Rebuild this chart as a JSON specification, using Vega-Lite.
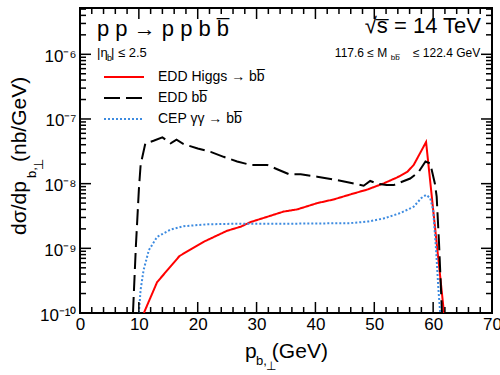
{
  "$schema": "https://vega.github.io/schema/vega-lite/v6.json",
  "width": 412,
  "height": 305,
  "autosize": {"type": "none"},
  "padding": {"left": 80, "top": 8, "right": 8, "bottom": 62},
  "background": "white",
  "config": {
    "view": {"stroke": "black", "strokeWidth": 2},
    "font": "Liberation Sans",
    "axis": {"ticks": false, "domain": false, "grid": false, "title": null},
    "text": {"font": "Liberation Sans", "color": "black"}
  },
  "datasets": {
    "xmaj": [{"v": 0}, {"v": 10}, {"v": 20}, {"v": 30}, {"v": 40}, {"v": 50}, {"v": 60}, {"v": 70}],
    "xmin": [{"v": 2}, {"v": 4}, {"v": 6}, {"v": 8}, {"v": 12}, {"v": 14}, {"v": 16}, {"v": 18}, {"v": 22}, {"v": 24}, {"v": 26}, {"v": 28}, {"v": 32}, {"v": 34}, {"v": 36}, {"v": 38}, {"v": 42}, {"v": 44}, {"v": 46}, {"v": 48}, {"v": 52}, {"v": 54}, {"v": 56}, {"v": 58}, {"v": 62}, {"v": 64}, {"v": 66}, {"v": 68}],
    "ymaj": [{"v": 1e-10}, {"v": 1e-9}, {"v": 1e-8}, {"v": 1e-7}, {"v": 1e-6}],
    "ymin": [{"v": 2e-10}, {"v": 3e-10}, {"v": 4e-10}, {"v": 5e-10}, {"v": 6e-10}, {"v": 7e-10}, {"v": 8e-10}, {"v": 9e-10}, {"v": 2e-9}, {"v": 3e-9}, {"v": 4e-9}, {"v": 5e-9}, {"v": 6e-9}, {"v": 7e-9}, {"v": 8e-9}, {"v": 9e-9}, {"v": 2e-8}, {"v": 3e-8}, {"v": 4e-8}, {"v": 5e-8}, {"v": 6e-8}, {"v": 7e-8}, {"v": 8e-8}, {"v": 9e-8}, {"v": 2e-7}, {"v": 3e-7}, {"v": 4e-7}, {"v": 5e-7}, {"v": 6e-7}, {"v": 7e-7}, {"v": 8e-7}, {"v": 9e-7}, {"v": 2e-6}, {"v": 3e-6}, {"v": 4e-6}, {"v": 5e-6}],
    "curves": [
      {"series": "higgs", "pt": 10.85, "ds": 1e-10},
      {"series": "higgs", "pt": 13.1, "ds": 3.0e-10},
      {"series": "higgs", "pt": 16.9, "ds": 7.6e-10},
      {"series": "higgs", "pt": 21.0, "ds": 1.26e-9},
      {"series": "higgs", "pt": 25.0, "ds": 1.87e-9},
      {"series": "higgs", "pt": 27.3, "ds": 2.16e-9},
      {"series": "higgs", "pt": 29.0, "ds": 2.55e-9},
      {"series": "higgs", "pt": 34.6, "ds": 3.7e-9},
      {"series": "higgs", "pt": 36.9, "ds": 4.0e-9},
      {"series": "higgs", "pt": 40.3, "ds": 5.0e-9},
      {"series": "higgs", "pt": 43.1, "ds": 5.7e-9},
      {"series": "higgs", "pt": 45.9, "ds": 6.8e-9},
      {"series": "higgs", "pt": 48.8, "ds": 8.1e-9},
      {"series": "higgs", "pt": 51.6, "ds": 1.01e-8},
      {"series": "higgs", "pt": 53.9, "ds": 1.25e-8},
      {"series": "higgs", "pt": 55.6, "ds": 1.52e-8},
      {"series": "higgs", "pt": 56.7, "ds": 1.95e-8},
      {"series": "higgs", "pt": 58.8, "ds": 4.4e-8},
      {"series": "higgs", "pt": 61.9, "ds": 9e-11},
      {"series": "bb", "pt": 9.0, "ds": 1e-10},
      {"series": "bb", "pt": 9.5, "ds": 1.1e-9},
      {"series": "bb", "pt": 10.0, "ds": 8e-9},
      {"series": "bb", "pt": 10.3, "ds": 1.95e-8},
      {"series": "bb", "pt": 11.1, "ds": 4.2e-8},
      {"series": "bb", "pt": 12.5, "ds": 4.6e-8},
      {"series": "bb", "pt": 14.0, "ds": 5.2e-8},
      {"series": "bb", "pt": 15.4, "ds": 4.2e-8},
      {"series": "bb", "pt": 16.4, "ds": 4.8e-8},
      {"series": "bb", "pt": 17.6, "ds": 4.1e-8},
      {"series": "bb", "pt": 20.0, "ds": 3.5e-8},
      {"series": "bb", "pt": 22.2, "ds": 3.1e-8},
      {"series": "bb", "pt": 24.4, "ds": 2.6e-8},
      {"series": "bb", "pt": 26.7, "ds": 2.2e-8},
      {"series": "bb", "pt": 29.0, "ds": 1.95e-8},
      {"series": "bb", "pt": 31.8, "ds": 1.95e-8},
      {"series": "bb", "pt": 33.5, "ds": 1.67e-8},
      {"series": "bb", "pt": 35.5, "ds": 1.4e-8},
      {"series": "bb", "pt": 37.5, "ds": 1.4e-8},
      {"series": "bb", "pt": 40.3, "ds": 1.28e-8},
      {"series": "bb", "pt": 43.1, "ds": 1.16e-8},
      {"series": "bb", "pt": 45.9, "ds": 1.03e-8},
      {"series": "bb", "pt": 48.2, "ds": 9.3e-9},
      {"series": "bb", "pt": 49.3, "ds": 1.1e-8},
      {"series": "bb", "pt": 50.5, "ds": 1.0e-8},
      {"series": "bb", "pt": 52.1, "ds": 9.5e-9},
      {"series": "bb", "pt": 53.3, "ds": 9.5e-9},
      {"series": "bb", "pt": 56.1, "ds": 1.2e-8},
      {"series": "bb", "pt": 57.5, "ds": 1.5e-8},
      {"series": "bb", "pt": 58.7, "ds": 2.2e-8},
      {"series": "bb", "pt": 59.5, "ds": 2.05e-8},
      {"series": "bb", "pt": 60.3, "ds": 1.0e-8},
      {"series": "bb", "pt": 60.6, "ds": 6.3e-9},
      {"series": "bb", "pt": 61.0, "ds": 1.2e-9},
      {"series": "bb", "pt": 61.5, "ds": 1e-10},
      {"series": "cep", "pt": 10.0, "ds": 1e-10},
      {"series": "cep", "pt": 10.3, "ds": 2.3e-10},
      {"series": "cep", "pt": 10.8, "ds": 4.6e-10},
      {"series": "cep", "pt": 11.7, "ds": 9.4e-10},
      {"series": "cep", "pt": 13.1, "ds": 1.5e-9},
      {"series": "cep", "pt": 15.4, "ds": 1.95e-9},
      {"series": "cep", "pt": 17.6, "ds": 2.2e-9},
      {"series": "cep", "pt": 21.6, "ds": 2.35e-9},
      {"series": "cep", "pt": 26.1, "ds": 2.4e-9},
      {"series": "cep", "pt": 35.0, "ds": 2.4e-9},
      {"series": "cep", "pt": 45.9, "ds": 2.45e-9},
      {"series": "cep", "pt": 49.0, "ds": 2.6e-9},
      {"series": "cep", "pt": 51.6, "ds": 2.9e-9},
      {"series": "cep", "pt": 54.4, "ds": 3.5e-9},
      {"series": "cep", "pt": 56.7, "ds": 4.4e-9},
      {"series": "cep", "pt": 58.0, "ds": 6.0e-9},
      {"series": "cep", "pt": 58.8, "ds": 6.7e-9},
      {"series": "cep", "pt": 59.5, "ds": 6.0e-9},
      {"series": "cep", "pt": 60.0, "ds": 3.9e-9},
      {"series": "cep", "pt": 60.5, "ds": 9.4e-10},
      {"series": "cep", "pt": 60.9, "ds": 2.3e-10},
      {"series": "cep", "pt": 61.2, "ds": 1e-10}
    ]
  },
  "layer": [
    {
      "data": {"name": "curves"},
      "mark": {"type": "line", "clip": true, "strokeWidth": 2},
      "encoding": {
        "x": {
          "field": "pt", "type": "quantitative",
          "scale": {"domain": [0, 70], "nice": false, "zero": false},
          "axis": {
            "orient": "bottom",
            "values": [0,10,20,30,40,50,60,70],
            "labelOverlap": false, "labelFlush": false,
            "labelFont": "Liberation Sans", "labelFontSize": 17, "labelColor": "black",
            "labelPadding": 3
          }
        },
        "y": {
          "field": "ds", "type": "quantitative",
          "scale": {"type": "log", "domain": [1e-10, 5.2e-6], "nice": false},
          "axis": {
            "orient": "left",
            "values": [1e-10, 1e-9, 1e-8, 1e-7, 1e-6],
            "labelExpr": "round(log(datum.value)/LN10) == -10 ? '10\u207b\u00b9\u2070' : round(log(datum.value)/LN10) == -9 ? '10\u207b\u2079' : round(log(datum.value)/LN10) == -8 ? '10\u207b\u2078' : round(log(datum.value)/LN10) == -7 ? '10\u207b\u2077' : '10\u207b\u2076'",
            "labelOverlap": false, "labelFlush": false,
            "labelFont": "Liberation Sans", "labelFontSize": 17, "labelColor": "black",
            "labelPadding": 4, "labelOffset": 2
          }
        },
        "color": {
          "field": "series", "type": "nominal",
          "scale": {"domain": ["higgs", "bb", "cep"], "range": ["#ff0000", "#000000", "#3d8be0"]},
          "legend": {
            "orient": "none", "legendX": 33, "legendY": 58, "title": null,
            "symbolType": "M-2,0H2", "symbolSize": 400, "symbolStrokeWidth": 2,
            "labelFont": "Liberation Sans", "labelFontSize": 14, "labelColor": "black",
            "labelOffset": 23, "labelLimit": 400, "padding": 0, "rowPadding": 3,
            "labelExpr": "datum.value == 'higgs' ? 'EDD Higgs \u2192 bb\u0305' : datum.value == 'bb' ? 'EDD bb\u0305' : 'CEP \u03b3\u03b3 \u2192 bb\u0305'"
          }
        },
        "strokeDash": {
          "field": "series", "type": "nominal",
          "scale": {"domain": ["higgs", "bb", "cep"], "range": [[1, 0], [16, 6], [2, 2]]},
          "legend": {
            "orient": "none", "legendX": 33, "legendY": 58, "title": null,
            "symbolType": "M-2,0H2", "symbolSize": 400, "symbolStrokeWidth": 2,
            "labelFont": "Liberation Sans", "labelFontSize": 14, "labelColor": "black",
            "labelOffset": 23, "labelLimit": 400, "padding": 0, "rowPadding": 3,
            "labelExpr": "datum.value == 'higgs' ? 'EDD Higgs \u2192 bb\u0305' : datum.value == 'bb' ? 'EDD bb\u0305' : 'CEP \u03b3\u03b3 \u2192 bb\u0305'"
          }
        }
      }
    },
    {
      "data": {"name": "xmaj"},
      "mark": {"type": "tick", "orient": "vertical", "size": 11, "thickness": 1.5, "color": "black", "opacity": 1, "yOffset": -5.5},
      "encoding": {
        "x": {"field": "v", "type": "quantitative", "scale": {"domain": [0, 70], "nice": false, "zero": false}},
        "y": {"datum": 1e-10, "type": "quantitative", "scale": {"type": "log", "domain": [1e-10, 5.2e-6], "nice": false}}
      }
    },
    {
      "data": {"name": "xmaj"},
      "mark": {"type": "tick", "orient": "vertical", "size": 11, "thickness": 1.5, "color": "black", "opacity": 1, "yOffset": 5.5},
      "encoding": {
        "x": {"field": "v", "type": "quantitative", "scale": {"domain": [0, 70], "nice": false, "zero": false}},
        "y": {"datum": 5.2e-6, "type": "quantitative", "scale": {"type": "log", "domain": [1e-10, 5.2e-6], "nice": false}}
      }
    },
    {
      "data": {"name": "xmin"},
      "mark": {"type": "tick", "orient": "vertical", "size": 6, "thickness": 1.5, "color": "black", "opacity": 1, "yOffset": -3},
      "encoding": {
        "x": {"field": "v", "type": "quantitative", "scale": {"domain": [0, 70], "nice": false, "zero": false}},
        "y": {"datum": 1e-10, "type": "quantitative", "scale": {"type": "log", "domain": [1e-10, 5.2e-6], "nice": false}}
      }
    },
    {
      "data": {"name": "xmin"},
      "mark": {"type": "tick", "orient": "vertical", "size": 6, "thickness": 1.5, "color": "black", "opacity": 1, "yOffset": 3},
      "encoding": {
        "x": {"field": "v", "type": "quantitative", "scale": {"domain": [0, 70], "nice": false, "zero": false}},
        "y": {"datum": 5.2e-6, "type": "quantitative", "scale": {"type": "log", "domain": [1e-10, 5.2e-6], "nice": false}}
      }
    },
    {
      "data": {"name": "ymaj"},
      "mark": {"type": "tick", "orient": "horizontal", "size": 11, "thickness": 1.5, "color": "black", "opacity": 1, "xOffset": 5.5},
      "encoding": {
        "y": {"field": "v", "type": "quantitative", "scale": {"type": "log", "domain": [1e-10, 5.2e-6], "nice": false}},
        "x": {"datum": 0, "type": "quantitative", "scale": {"domain": [0, 70], "nice": false, "zero": false}}
      }
    },
    {
      "data": {"name": "ymaj"},
      "mark": {"type": "tick", "orient": "horizontal", "size": 11, "thickness": 1.5, "color": "black", "opacity": 1, "xOffset": -5.5},
      "encoding": {
        "y": {"field": "v", "type": "quantitative", "scale": {"type": "log", "domain": [1e-10, 5.2e-6], "nice": false}},
        "x": {"datum": 70, "type": "quantitative", "scale": {"domain": [0, 70], "nice": false, "zero": false}}
      }
    },
    {
      "data": {"name": "ymin"},
      "mark": {"type": "tick", "orient": "horizontal", "size": 6, "thickness": 1.5, "color": "black", "opacity": 1, "xOffset": 3},
      "encoding": {
        "y": {"field": "v", "type": "quantitative", "scale": {"type": "log", "domain": [1e-10, 5.2e-6], "nice": false}},
        "x": {"datum": 0, "type": "quantitative", "scale": {"domain": [0, 70], "nice": false, "zero": false}}
      }
    },
    {
      "data": {"name": "ymin"},
      "mark": {"type": "tick", "orient": "horizontal", "size": 6, "thickness": 1.5, "color": "black", "opacity": 1, "xOffset": -3},
      "encoding": {
        "y": {"field": "v", "type": "quantitative", "scale": {"type": "log", "domain": [1e-10, 5.2e-6], "nice": false}},
        "x": {"datum": 70, "type": "quantitative", "scale": {"domain": [0, 70], "nice": false, "zero": false}}
      }
    },
    {
      "data": {"values": [{"x": 2.89, "y": 1.92e-6, "t": "p p \u2192 p p b b\u0305"}]},
      "mark": {"type": "text", "fontSize": 22, "align": "left", "baseline": "alphabetic"},
      "encoding": {
        "x": {"field": "x", "type": "quantitative", "scale": {"domain": [0, 70], "nice": false, "zero": false}},
        "y": {"field": "y", "type": "quantitative", "scale": {"type": "log", "domain": [1e-10, 5.2e-6], "nice": false}},
        "text": {"field": "t"}
      }
    },
    {
      "data": {"values": [{"x": 68.13, "y": 2.14e-6, "t": "\u221as\u0305 = 14 TeV"}]},
      "mark": {"type": "text", "fontSize": 22, "align": "right", "baseline": "alphabetic"},
      "encoding": {
        "x": {"field": "x", "type": "quantitative", "scale": {"domain": [0, 70], "nice": false, "zero": false}},
        "y": {"field": "y", "type": "quantitative", "scale": {"type": "log", "domain": [1e-10, 5.2e-6], "nice": false}},
        "text": {"field": "t"}
      }
    },
    {
      "data": {"values": [{"x": 2.89, "y": 9.1e-7, "t": "|\u03b7"}, {"x": 5.27, "y": 9.1e-7, "t": "| \u2264 2.5"}]},
      "mark": {"type": "text", "fontSize": 13, "align": "left", "baseline": "alphabetic"},
      "encoding": {
        "x": {"field": "x", "type": "quantitative", "scale": {"domain": [0, 70], "nice": false, "zero": false}},
        "y": {"field": "y", "type": "quantitative", "scale": {"type": "log", "domain": [1e-10, 5.2e-6], "nice": false}},
        "text": {"field": "t"}
      }
    },
    {
      "data": {"values": [{"x": 4.59, "y": 7.9e-7, "t": "b"}]},
      "mark": {"type": "text", "fontSize": 9, "align": "left", "baseline": "alphabetic"},
      "encoding": {
        "x": {"field": "x", "type": "quantitative", "scale": {"domain": [0, 70], "nice": false, "zero": false}},
        "y": {"field": "y", "type": "quantitative", "scale": {"type": "log", "domain": [1e-10, 5.2e-6], "nice": false}},
        "text": {"field": "t"}
      }
    },
    {
      "data": {"values": [{"x": 43.3, "y": 9.1e-7, "t": "117.6  \u2264 M"}]},
      "mark": {"type": "text", "fontSize": 12, "align": "left", "baseline": "alphabetic"},
      "encoding": {
        "x": {"field": "x", "type": "quantitative", "scale": {"domain": [0, 70], "nice": false, "zero": false}},
        "y": {"field": "y", "type": "quantitative", "scale": {"type": "log", "domain": [1e-10, 5.2e-6], "nice": false}},
        "text": {"field": "t"}
      }
    },
    {
      "data": {"values": [{"x": 68.0, "y": 9.1e-7, "t": "\u2264  122.4 GeV"}]},
      "mark": {"type": "text", "fontSize": 12, "align": "right", "baseline": "alphabetic"},
      "encoding": {
        "x": {"field": "x", "type": "quantitative", "scale": {"domain": [0, 70], "nice": false, "zero": false}},
        "y": {"field": "y", "type": "quantitative", "scale": {"type": "log", "domain": [1e-10, 5.2e-6], "nice": false}},
        "text": {"field": "t"}
      }
    },
    {
      "data": {"values": [{"x": 52.8, "y": 8.17e-7, "t": "bb\u0305"}]},
      "mark": {"type": "text", "fontSize": 8, "align": "left", "baseline": "alphabetic"},
      "encoding": {
        "x": {"field": "x", "type": "quantitative", "scale": {"domain": [0, 70], "nice": false, "zero": false}},
        "y": {"field": "y", "type": "quantitative", "scale": {"type": "log", "domain": [1e-10, 5.2e-6], "nice": false}},
        "text": {"field": "t"}
      }
    },
    {
      "data": {"values": [{"x": 28.03, "y": 2.01e-11, "t": "p"}, {"x": 32.6, "y": 2.01e-11, "t": "(GeV)"}]},
      "mark": {"type": "text", "fontSize": 21, "align": "left", "baseline": "alphabetic"},
      "encoding": {
        "x": {"field": "x", "type": "quantitative", "scale": {"domain": [0, 70], "nice": false, "zero": false}},
        "y": {"field": "y", "type": "quantitative", "scale": {"type": "log", "domain": [1e-10, 5.2e-6], "nice": false}},
        "text": {"field": "t"}
      }
    },
    {
      "data": {"values": [{"x": 29.9, "y": 1.57e-11, "t": "b,"}]},
      "mark": {"type": "text", "fontSize": 13, "align": "left", "baseline": "alphabetic"},
      "encoding": {
        "x": {"field": "x", "type": "quantitative", "scale": {"domain": [0, 70], "nice": false, "zero": false}},
        "y": {"field": "y", "type": "quantitative", "scale": {"type": "log", "domain": [1e-10, 5.2e-6], "nice": false}},
        "text": {"field": "t"}
      }
    },
    {
      "data": {"values": [{"x": 31.6, "y": 1.31e-11, "t": "\u22a5"}]},
      "mark": {"type": "text", "fontSize": 12, "align": "left", "baseline": "alphabetic"},
      "encoding": {
        "x": {"field": "x", "type": "quantitative", "scale": {"domain": [0, 70], "nice": false, "zero": false}},
        "y": {"field": "y", "type": "quantitative", "scale": {"type": "log", "domain": [1e-10, 5.2e-6], "nice": false}},
        "text": {"field": "t"}
      }
    },
    {
      "data": {"values": [{"x": -9.17, "y": 1.61e-9, "t": "d\u03c3/dp"}, {"x": -9.17, "y": 2.16e-8, "t": "(nb/GeV)"}]},
      "mark": {"type": "text", "fontSize": 21, "align": "left", "baseline": "alphabetic", "angle": 270},
      "encoding": {
        "x": {"field": "x", "type": "quantitative", "scale": {"domain": [0, 70], "nice": false, "zero": false}},
        "y": {"field": "y", "type": "quantitative", "scale": {"type": "log", "domain": [1e-10, 5.2e-6], "nice": false}},
        "text": {"field": "t"}
      }
    },
    {
      "data": {"values": [{"x": -7.48, "y": 1.22e-8, "t": "b,"}, {"x": -6.29, "y": 1.63e-8, "t": "\u22a5"}]},
      "mark": {"type": "text", "fontSize": 13, "align": "left", "baseline": "alphabetic", "angle": 270},
      "encoding": {
        "x": {"field": "x", "type": "quantitative", "scale": {"domain": [0, 70], "nice": false, "zero": false}},
        "y": {"field": "y", "type": "quantitative", "scale": {"type": "log", "domain": [1e-10, 5.2e-6], "nice": false}},
        "text": {"field": "t"}
      }
    }
  ]
}
